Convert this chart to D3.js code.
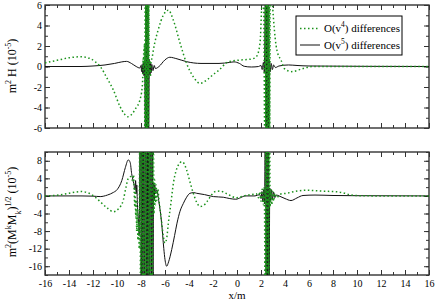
<!DOCTYPE html>
<html>
<head>
<meta charset="utf-8">
<script src="https://cdn.jsdelivr.net/npm/d3@7"></script>
<style>
body { margin: 0; background: #fff; }
text { font-family: "Liberation Serif", "Times New Roman", serif; }
</style>
</head>
<body>
<script>
// ---- data ----
const xMajor = [-16, -14, -12, -10, -8, -6, -4, -2, 0, 2, 4, 6, 8, 10, 12, 14, 16];
const hMajor = [-6, -4, -2, 0, 2, 4, 6];
const mMajor = [-16, -12, -8, -4, 0, 4, 8];
const seriesNames = ["O(v4) differences", "O(v5) differences"];

// top panel, m^2 H, O(v^4)
const hV4 = [[-16,0.35],[-15,0.6],[-14,0.85],[-13,0.95],[-12.3,0.8],[-11.8,0.45],[-11.4,0],[-10.8,-1.2],[-10.3,-2.3],
  [-9.75,-3.9],[-9.4,-4.6],[-9.1,-4.9],[-8.8,-4.7],[-8.4,-4.0],[-8.1,-3.3],[-7.9,-2.0],
  [-7.85,-0.8],[-7.82,0.8],[-7.8,-0.4],[-7.77,1.6],[-7.74,0.2],[-7.71,2.2],
  [-7.68,-9],[-7.65,9],[-7.62,-9],[-7.59,9],[-7.56,-9],[-7.53,9],[-7.5,-9],[-7.47,9],[-7.44,-9],[-7.41,9],[-7.38,-9],[-7.35,9],
  [-7.32,1.2],[-7.29,-0.6],[-7.26,0.6],[-7.22,-1.0],[-7.15,0.4],[-7.05,1.0],
  [-6.97,1.6],[-6.56,3.6],[-6.14,5.0],[-5.72,5.5],[-5.3,4.5],[-4.75,2.3],[-4.2,0.3],[-3.64,-1.0],[-3.08,-1.65],
  [-2.5,-1.3],[-2.0,-0.8],[-1.5,-0.35],[-0.75,0.45],[0,0.6],[1.0,0.7],[1.3,0.75],[1.64,1.0],[1.92,2.3],[2.06,5.8],[2.2,8],
  [2.33,-9],[2.37,9],[2.41,-9],[2.45,9],[2.49,-9],[2.53,9],[2.57,-9],[2.61,9],[2.65,-9],[2.69,9],[2.73,-9],[2.77,9],
  [2.85,8],[2.97,5.8],[3.25,2.1],[3.39,1.3],[3.67,0.63],[3.94,-0.2],[4.56,-0.5],[5.5,-0.2],[6.3,0],[10,0],[16,0]];

// top panel, m^2 H, O(v^5)
const hV5 = [[-16,0],[-13,0],[-12,0.05],[-11,0.15],[-10.2,0.3],[-9.6,0.45],[-9.2,0.5],[-8.8,0.3],[-8.4,0],[-8.1,-0.15],
  [-8.0,0.1],[-7.95,-0.5],[-7.9,0.2],[-7.85,-0.7],[-7.8,0.4],[-7.75,-0.9],[-7.7,0.6],
  [-7.62,-9],[-7.58,9],[-7.54,-9],[-7.5,9],[-7.46,-9],[-7.42,9],[-7.38,-9],
  [-7.3,0.6],[-7.25,-0.8],[-7.2,0.3],[-7.15,-0.6],[-7.1,0.2],[-7.0,-0.4],[-6.9,0.1],[-6.8,-0.2],
  [-6.5,0],[-6.0,0.65],[-5.6,0.9],[-5.0,0.75],[-4.2,0.47],[-3.0,0.3],[-1.5,0.3],[-0.6,0.4],[-0.25,0.45],[0.2,0.3],
  [0.6,0.02],[1.2,-0.05],[1.8,0],
  [2.0,0.1],[2.1,-0.3],[2.2,0.4],[2.28,-0.6],
  [2.38,9],[2.43,-9],[2.48,9],[2.53,-9],[2.58,9],[2.63,-9],
  [2.7,0.6],[2.78,-0.5],[2.85,0.3],[2.95,-0.3],[3.05,0.15],[3.2,-0.1],
  [3.5,0.05],[4.3,0.15],[5,0.1],[6,0.05],[16,0]];

// bottom panel, m^2 (M^k M_k)^1/2, O(v^4)
const mV4 = [[-16,0],[-15,0.15],[-14,0.6],[-13,1.0],[-12.4,0.7],[-11.8,-0.3],[-11.4,-1.3],[-10.8,-2.8],[-10.3,-3.6],
  [-9.9,-3.0],[-9.47,-0.9],[-9.25,2.0],[-9.06,4.0],[-8.85,4.4],[-8.7,3.5],
  [-8.62,4.8],[-8.57,1.0],[-8.52,-2.5],[-8.48,1.5],[-8.44,-5],[-8.4,-1],[-8.36,-8],[-8.3,-3],[-8.26,-10],[-8.2,-6],[-8.15,-12],
  [-8.1,22],[-8.03,-30],[-7.96,30],[-7.89,-30],[-7.82,30],[-7.75,-30],[-7.68,30],[-7.61,-30],[-7.54,30],[-7.47,-30],
  [-7.4,30],[-7.33,-30],[-7.26,30],[-7.19,-30],[-7.12,30],[-7.05,-30],[-6.98,20],
  [-6.92,-4],[-6.86,3.6],[-6.8,-2],[-6.74,2.5],[-6.68,-1],[-6.6,1.5],[-6.5,-1],
  [-6.3,-5.5],[-6.15,-9],[-6.0,-10.7],[-5.85,-9.5],[-5.72,-6.2],[-5.5,-1.5],[-5.3,2.9],[-5.1,5.5],[-4.89,7.0],[-4.6,7.8],
  [-4.4,7.3],[-4.2,5.9],[-3.9,3.0],[-3.64,0.6],[-3.35,-1.5],[-3.08,-2.4],[-2.8,-2.2],[-2.5,-1.3],[-2.1,0.3],[-1.8,1.0],
  [-1.4,1.1],[-1.0,0.7],[-0.5,0.0],[-0.1,-0.4],[0.3,-0.2],[0.7,0.1],[1.2,0.3],[1.6,0.5],
  [1.8,-0.4],[1.9,1.0],[2.0,-1.2],[2.1,1.5],[2.2,-2],[2.28,2],
  [2.35,-30],[2.4,30],[2.45,-30],[2.5,30],[2.55,-30],[2.6,30],[2.65,-30],[2.7,30],
  [2.76,-2.5],[2.82,1.5],[2.9,-2],[2.98,1],[3.05,-1.2],[3.15,0.6],[3.3,-0.4],
  [3.6,0.4],[4.1,0.6],[5.0,1.1],[5.8,1.3],[7,1.1],[8.3,0.95],[9.0,0.6],[9.4,0.25],[10.2,0.05],[12,0],[16,0]];

// bottom panel, m^2 (M^k M_k)^1/2, O(v^5)
const mV5 = [[-16,0],[-13,0],[-12,-0.05],[-11.4,-0.15],[-10.8,0.2],[-10.3,0.8],[-10.0,1.4],[-9.6,3.5],[-9.3,6.5],
  [-9.06,8.2],[-8.9,7.6],[-8.78,5.1],[-8.6,2.8],[-8.5,1.4],
  [-8.45,3.5],[-8.4,0.5],[-8.35,2.5],[-8.3,-2],[-8.25,-4],[-8.2,-6.5],[-8.15,-9],
  [-8.05,30],[-7.98,-30],[-7.91,30],[-7.84,-30],[-7.77,30],[-7.7,-30],[-7.63,30],[-7.56,-30],[-7.49,30],[-7.42,-30],
  [-7.35,30],[-7.28,-30],[-7.21,30],[-7.14,-30],[-7.07,30],[-7.0,-20],
  [-6.95,3],[-6.9,-1],[-6.85,2.5],[-6.8,0.5],
  [-6.7,1.4],[-6.5,-1.5],[-6.28,-6.2],[-6.1,-12],[-6.0,-14.5],[-5.86,-16],[-5.7,-15],[-5.44,-12.2],[-5.2,-9],[-5.0,-6.2],
  [-4.75,-3.5],[-4.47,-1.7],[-4.2,-0.3],[-3.92,0.6],[-3.6,0.75],[-3.36,0.6],[-2.7,0.3],[-1.97,-0.15],[-1.14,-0.3],
  [-0.6,-0.6],[-0.1,-0.75],[0.3,-0.4],[0.67,0],[1.5,0],
  [1.9,0.3],[2.0,-0.6],[2.08,1.0],[2.16,-1.3],[2.24,1.5],[2.3,-1.8],
  [2.37,30],[2.43,-30],[2.49,30],[2.55,-30],[2.61,30],[2.67,-30],
  [2.73,1.8],[2.8,-1.2],[2.88,1.4],[2.95,-0.8],[3.05,0.9],[3.15,-0.4],[3.3,0.2],
  [3.5,0],[4.0,-0.6],[4.5,-1.05],[5.0,-0.45],[5.5,0.1],[6.5,0.2],[8,0.1],[10,0.05],[16,0]];

// ---- layout ----
const W = 436, H = 300;
const green = "#1a921a";
const frameCol = "#333";

const svg = d3.select("body").append("svg")
    .attr("width", W)
    .attr("height", H);

const x = d3.scaleLinear().domain([-16, 16]).range([45, 429]);
const yH = d3.scaleLinear().domain([-6, 6]).range([128, 5]);
const yM = d3.scaleLinear().domain([-18, 10]).range([275, 152]);

function drawPanel(id, y, yMajor, yMinor, showX) {
    const y0 = y.range()[1], y1 = y.range()[0];
    const g = svg.append("g");

    g.append("clipPath").attr("id", id)
        .append("rect")
        .attr("x", x.range()[0]).attr("y", y0)
        .attr("width", x.range()[1] - x.range()[0]).attr("height", y1 - y0);

    const xMinor = d3.range(-16, 17, 1);

    // ticks, all pointing in
    function tickSet(axis, tf, size, fmt, pad) {
        const a = g.append("g").attr("transform", tf)
            .call(axis.tickSize(-size).tickSizeOuter(0).tickPadding(pad).tickFormat(fmt));
        a.select(".domain").remove();
        a.selectAll("line").attr("stroke", frameCol);
        a.selectAll("text").attr("font-size", 10).attr("fill", "#000")
            .style("font-family", '"Liberation Serif", "Times New Roman", serif');
        return a;
    }
    const none = () => "";
    const plain = d => String(d);

    tickSet(d3.axisBottom(x).tickValues(xMinor), `translate(0,${y1})`, 3, none, 0);
    tickSet(d3.axisBottom(x).tickValues(xMajor), `translate(0,${y1})`, 5, showX ? plain : none, 5);
    tickSet(d3.axisTop(x).tickValues(xMinor), `translate(0,${y0})`, 3, none, 0);
    tickSet(d3.axisTop(x).tickValues(xMajor), `translate(0,${y0})`, 5, none, 0);
    tickSet(d3.axisLeft(y).tickValues(yMinor), `translate(${x.range()[0]},0)`, 3, none, 0);
    tickSet(d3.axisLeft(y).tickValues(yMajor), `translate(${x.range()[0]},0)`, 5, plain, 3);
    tickSet(d3.axisRight(y).tickValues(yMinor), `translate(${x.range()[1]},0)`, 3, none, 0);
    tickSet(d3.axisRight(y).tickValues(yMajor), `translate(${x.range()[1]},0)`, 5, none, 0);

    g.append("rect")
        .attr("x", x.range()[0]).attr("y", y0)
        .attr("width", x.range()[1] - x.range()[0]).attr("height", y1 - y0)
        .attr("fill", "none").attr("stroke", frameCol).attr("stroke-width", 1.4);

    const line = d3.line()
        .x(d => x(d[0]))
        .y(d => y(d[1]))
        .curve(d3.curveMonotoneX);

    const lines = g.append("g").attr("clip-path", `url(#${id})`);
    return { lines, line };
}

const panelH = drawPanel("clipTop", yH, hMajor, d3.range(-6, 7, 1), false);
const panelM = drawPanel("clipBot", yM, mMajor, d3.range(-18, 11, 2), true);

function drawSeries(p, data, isV4) {
    p.lines.append("path")
        .datum(data)
        .attr("d", p.line)
        .attr("fill", "none")
        .attr("stroke", isV4 ? green : "#111")
        .attr("stroke-width", isV4 ? 1.5 : 1)
        .attr("stroke-dasharray", isV4 ? "1.5,2.5" : null);
}
drawSeries(panelH, hV5, false);
drawSeries(panelH, hV4, true);
drawSeries(panelM, mV5, false);
drawSeries(panelM, mV4, true);

// text with super/subscripts: pieces of [string, shift] (-1 sup, 1 sub)
function richText(sel, pieces, big, small) {
    let cur = 0;
    pieces.forEach(([s, sh]) => {
        const off = sh * 5;
        sel.append("tspan")
            .attr("dy", off - cur)
            .attr("font-size", sh === 0 ? big : small)
            .text(s);
        cur = off;
    });
}

const lblTop = svg.append("text")
    .attr("transform", "translate(16,66) rotate(-90)")
    .attr("text-anchor", "middle")
    .attr("fill", "#000");
richText(lblTop, [["m", 0], ["2", -1], [" H (10", 0], ["-5", -1], [")", 0]], 12, 8);

const lblBot = svg.append("text")
    .attr("transform", "translate(16,212) rotate(-90)")
    .attr("text-anchor", "middle")
    .attr("fill", "#000");
richText(lblBot, [["m", 0], ["2", -1], ["(M", 0], ["k", -1], ["M", 0], ["k", 1], [")", 0], ["1/2", -1],
    [" (10", 0], ["-5", -1], [")", 0]], 12, 8);

svg.append("text")
    .attr("x", 237).attr("y", 299)
    .attr("text-anchor", "middle")
    .attr("font-size", 11)
    .text("x/m");

// legend
const leg = svg.append("g");
leg.append("rect")
    .attr("x", 296).attr("y", 16).attr("width", 106).attr("height", 39)
    .attr("fill", "#fff").attr("stroke", "#000").attr("stroke-width", 1);
seriesNames.forEach((name, i) => {
    const yy = 28.5 + i * 16.5;
    leg.append("line")
        .attr("x1", 300).attr("x2", 320).attr("y1", yy).attr("y2", yy)
        .attr("stroke", i === 0 ? green : "#111")
        .attr("stroke-width", i === 0 ? 1.5 : 1)
        .attr("stroke-dasharray", i === 0 ? "1.5,2.5" : null);
    const t = leg.append("text").attr("x", 324).attr("y", yy + 3.5).attr("fill", "#000");
    richText(t, [["O(v", 0], [name.charAt(3), -1], [") differences", 0]], 11, 7.5);
});
</script>
</body>
</html>
